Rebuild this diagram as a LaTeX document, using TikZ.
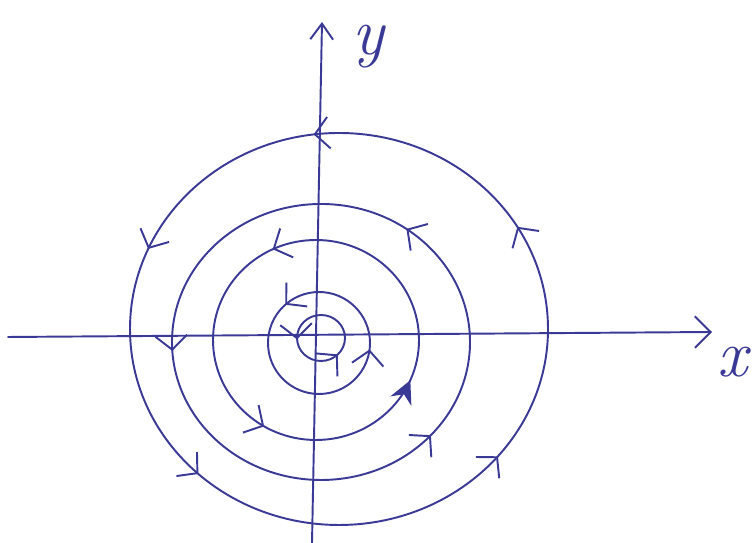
\documentclass[tikz,border=0pt]{standalone}
\usetikzlibrary{arrows.meta,decorations.markings}
\definecolor{penblue}{RGB}{58,58,150}
\tikzset{
  ink/.style={draw=penblue, line width=1.1pt, line cap=round, line join=round},
  barb/.tip={Straight Barb[length=8pt,width=18pt,line width=1.1pt]},
  blob/.tip={Stealth[length=13pt,width=13pt]},
  orbit/.style n args={1}{ink, postaction={decorate}, decoration={markings, #1}},
  lbl/.style={text=penblue, font=\fontsize{38}{38}\selectfont\itshape, inner sep=0pt}
}
\begin{document}
\begin{tikzpicture}[x=0.02cm,y=0.02cm]
\useasboundingbox (0,0) rectangle (754,543);
% axes
\coordinate (xl) at (8,206);
\coordinate (xr) at (712,211);
\coordinate (yb) at (312,0);
\coordinate (yt) at (322,521);
\draw[ink, -{Straight Barb[length=9pt,width=18pt,line width=1.1pt]}] (xl) -- (xr);
\draw[ink, -{Straight Barb[length=9pt,width=13pt,line width=1.1pt]}] (yb) -- (yt);
\node[lbl] (ylab) at (368,496) {y};
\node[lbl] (xlab) at (733,181) {x};
% orbits (counterclockwise)
\path[orbit={mark=at position 0.085 with {\arrow[penblue]{barb}},
              mark=at position 0.27 with {\arrow[penblue]{barb}},
              mark=at position 0.435 with {\arrow[penblue]{barb}},
              mark=at position 0.63 with {\arrow[penblue]{barb}},
              mark=at position 0.89 with {\arrow[penblue]{barb}}}]
  (339,214) ellipse [x radius=209, y radius=196];
\path[orbit={mark=at position 0.15 with {\arrow[penblue]{barb}},
              mark=at position 0.51 with {\arrow[penblue]{barb}},
              mark=at position 0.885 with {\arrow[penblue]{barb}}}]
  (321,201) ellipse [x radius=149, y radius=138];
\path[orbit={mark=at position 0.32 with {\arrow[penblue]{barb}},
              mark=at position 0.665 with {\arrow[penblue]{barb}},
              mark=at position 0.935 with {\arrow[penblue]{blob}}}]
  (316,203) ellipse [x radius=103, y radius=100];
\path[orbit={mark=at position 0.365 with {\arrow[penblue]{barb}},
              mark=at position 0.98 with {\arrow[penblue]{barb}}}]
  (319,200) ellipse [x radius=51, y radius=51];
\path[orbit={mark=at position 0.51 with {\arrow[penblue]{barb}},
              mark=at position 0.875 with {\arrow[penblue]{barb}}}]
  (321,205) ellipse [x radius=24, y radius=23];
\end{tikzpicture}
\end{document}
